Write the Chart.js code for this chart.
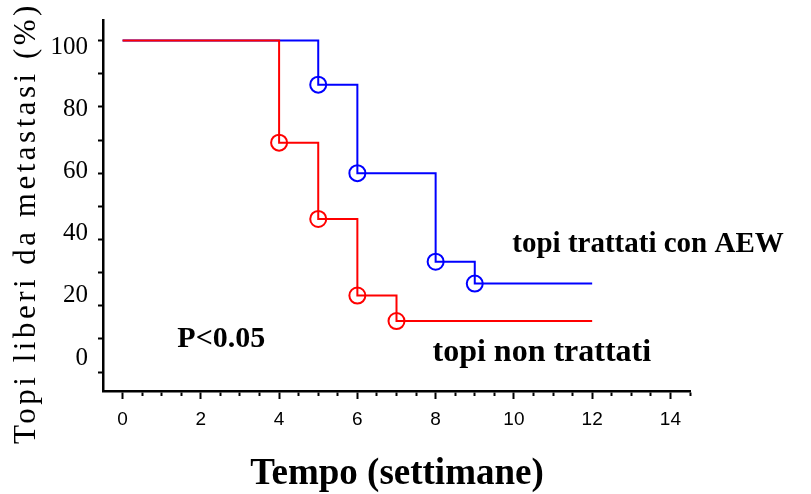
<!DOCTYPE html>
<html lang="it">
<head>
<meta charset="utf-8">
<title>Topi liberi da metastasi</title>
<script src="https://cdn.jsdelivr.net/npm/chart.js@4"></script>
<style>
  html, body { margin: 0; padding: 0; background: #fff; }
  #wrap { width: 811px; height: 494px; }
</style>
</head>
<body>
<div id="wrap"><canvas id="kmChart" width="811" height="494"></canvas></div>
<script>
// Kaplan-Meier curves: weeks vs % of mice free of metastasis
const treatedWeeks = [0, 5, 6, 8, 9, 12];
const treatedFree = [100, 86.7, 60, 33.3, 26.7, 26.7];
const untreatedWeeks = [0, 4, 5, 6, 7, 12];
const untreatedFree = [100, 69.2, 46.2, 23.1, 15.4, 15.4];

const xLabels = [0, 2, 4, 6, 8, 10, 12, 14];
const yTickValues = [0, 10, 20, 30, 40, 50, 60, 70, 80, 90, 100];
const yLabels = [0, 20, 40, 60, 80, 100];

// free text placed in data units
const notes = [
  { text: 'topi trattati con AEW', x: 9.96, y: 36.2, size: 29 },
  { text: 'topi non trattati', x: 7.92, y: 3.3, size: 32 },
  { text: 'P<0.05', x: 1.4, y: 7.5, size: 30 }
];

const toPoints = (xs, ys) => xs.map((v, i) => ({ x: v, y: ys[i] }));
// circles only where the curve drops, not at start/end
const dropRadius = (ctx) => {
  const n = ctx.dataset.data.length;
  return ctx.dataIndex === 0 || ctx.dataIndex === n - 1 ? 0 : 8;
};

const serif = '"Liberation Serif", "Times New Roman", serif';

const textLabels = {
  id: 'textLabels',
  afterDraw(chart) {
    const { ctx } = chart;
    const x = chart.scales.x, y = chart.scales.y;
    ctx.save();
    ctx.fillStyle = '#000';
    ctx.textBaseline = 'alphabetic';
    ctx.textAlign = 'left';
    notes.forEach(n => {
      ctx.font = 'bold ' + n.size + 'px ' + serif;
      ctx.fillText(n.text, x.getPixelForValue(n.x), y.getPixelForValue(n.y));
    });

    ctx.textAlign = 'center';
    ctx.font = 'bold 37px ' + serif;
    ctx.fillText('Tempo (settimane)', 397, 484);

    ctx.translate(27, 223);
    ctx.rotate(-Math.PI / 2);
    ctx.font = '31px ' + serif;
    ctx.letterSpacing = '3.5px';
    ctx.textBaseline = 'middle';
    ctx.fillText('Topi liberi da metastasi (%)', 0, 0);
    ctx.restore();
  }
};

const noPad = (scale) => {
  scale.paddingTop = 0;
  scale.paddingBottom = 0;
  scale.paddingLeft = 0;
  scale.paddingRight = 0;
};

new Chart(document.getElementById('kmChart'), {
  type: 'line',
  data: {
    datasets: [
      {
        label: 'topi non trattati',
        data: toPoints(untreatedWeeks, untreatedFree),
        borderColor: '#ff0000',
        pointBorderColor: '#ff0000',
        pointBackgroundColor: 'rgba(0,0,0,0)',
        borderWidth: 2,
        pointBorderWidth: 2,
        pointRadius: dropRadius,
        stepped: 'before',
        clip: false
      },
      {
        label: 'topi trattati con AEW',
        data: toPoints(treatedWeeks, treatedFree),
        borderColor: '#0000ff',
        pointBorderColor: '#0000ff',
        pointBackgroundColor: 'rgba(0,0,0,0)',
        borderWidth: 2,
        pointBorderWidth: 2,
        pointRadius: dropRadius,
        stepped: 'before',
        clip: false
      }
    ]
  },
  options: {
    responsive: false,
    animation: false,
    layout: { padding: { top: 20, right: 121, left: 0, bottom: 0 } },
    plugins: {
      legend: { display: false },
      tooltip: { enabled: false }
    },
    scales: {
      x: {
        type: 'linear',
        min: -0.5,
        max: 14.5,
        afterBuildTicks: (scale) => {
          scale.ticks = scale.ticks.filter(t => t.value >= 0);
        },
        afterFit: (scale) => { scale.height = 103; noPad(scale); },
        border: { display: true, color: '#000', width: 2.5 },
        grid: {
          drawOnChartArea: false,
          drawTicks: true,
          tickLength: 8,
          tickColor: '#000',
          tickWidth: 2,
          // minor ticks stay short
          tickBorderDash: (ctx) => (ctx.tick && xLabels.includes(ctx.tick.value)) ? [] : [3.5, 20]
        },
        ticks: {
          stepSize: 0.5,
          autoSkip: false,
          maxRotation: 0,
          padding: 9,
          color: '#000',
          font: { family: '"Liberation Sans", Arial, sans-serif', size: 19 },
          callback: (v) => xLabels.includes(v) ? String(v) : ''
        }
      },
      y: {
        position: 'left',
        weight: 0,
        min: -5.7,
        max: 106.2,
        afterBuildTicks: (scale) => {
          scale.ticks = yTickValues.map(v => ({ value: v }));
        },
        afterFit: (scale) => { scale.width = 5; noPad(scale); },
        border: { display: true, color: '#000', width: 2.5 },
        grid: {
          drawOnChartArea: false,
          drawTicks: true,
          tickLength: 5,
          tickColor: '#000',
          tickWidth: 2
        },
        ticks: { display: false }
      },
      yLab: {
        position: 'left',
        weight: 1,
        min: -10.6,
        max: 108.7,
        afterBuildTicks: (scale) => {
          scale.ticks = yLabels.map(v => ({ value: v }));
        },
        afterFit: (scale) => { scale.width = 98; noPad(scale); },
        border: { display: false },
        grid: { display: false },
        ticks: {
          padding: 2,
          color: '#000',
          font: { family: serif, size: 25 }
        }
      }
    }
  },
  plugins: [textLabels]
});
</script>
</body>
</html>
